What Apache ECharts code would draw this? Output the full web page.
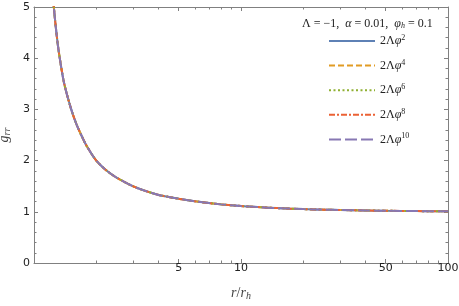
<!DOCTYPE html>
<html><head><meta charset="utf-8">
<script src="https://cdn.jsdelivr.net/npm/echarts@6/dist/echarts.min.js"></script>
<style>html,body{margin:0;padding:0;background:#fff}#c{width:459px;height:306px}</style>
</head><body><div id="c"></div>
<script>
// Data
const rValues = [1.2, 1.25, 1.3, 1.35, 1.4, 1.5, 1.6, 1.7, 1.8, 2, 2.25, 2.5, 3, 3.5, 4, 5, 6, 7, 8, 10, 12, 15, 20, 25, 30, 40, 50, 70, 100];
const grrValues = [5.9, 4.95, 4.3, 3.85, 3.5, 3.05, 2.72, 2.48, 2.28, 2.0, 1.8, 1.67, 1.5, 1.4, 1.33, 1.255, 1.205, 1.17, 1.145, 1.112, 1.092, 1.072, 1.053, 1.042, 1.035, 1.026, 1.02, 1.014, 1.01];
const seriesNames = ['2Λφ2', '2Λφ4', '2Λφ6', '2Λφ8', '2Λφ10'];
const seriesPowers = ['2', '4', '6', '8', '10'];
const seriesColors = ['#5E81B5', '#E19C24', '#8FB032', '#EB6235', '#8778B3'];
const seriesDash = ['solid', [6, 3], [2, 2.5], [6, 2, 2, 2], [12, 4]];
const xMajorTicks = [5, 10, 50, 100];
const xMinorTicks = [2, 3, 4, 6, 7, 8, 9, 20, 30, 40, 60, 70, 80, 90];

const frameColor = '#808080';
const tickColor = '#808080';
const pts = rValues.map((r, i) => [r, grrValues[i]]);

function xAxisDef(pos, ticks, len, labels, line) {
  return {
    type: 'log', logBase: 10, min: 1, max: 100, position: pos,
    axisLine: {show: line, onZero: false, lineStyle: {color: frameColor, width: 1}},
    axisTick: {show: true, inside: true, length: len, customValues: ticks, lineStyle: {color: tickColor, width: 1}},
    axisLabel: labels ? {show: true, customValues: xMajorTicks, color: '#222', fontFamily: 'DejaVu Sans', fontSize: 11, margin: 0} : {show: false},
    splitLine: {show: false}, minorTick: {show: false}
  };
}
function yAxisDef(pos, labels) {
  return {
    type: 'value', min: 0, max: 5, interval: 1, position: pos,
    axisLine: {show: true, onZero: false, lineStyle: {color: frameColor, width: 1}},
    axisTick: {show: true, inside: true, length: 4, lineStyle: {color: tickColor, width: 1}},
    minorTick: {show: true, splitNumber: 5, length: 2.5, lineStyle: {color: tickColor, width: 1}},
    axisLabel: labels ? {show: true, color: '#222', fontFamily: 'DejaVu Sans', fontSize: 11, margin: 4} : {show: false},
    splitLine: {show: false}
  };
}

const xAxes = [
  xAxisDef('bottom', xMajorTicks, 4, true, true),
  xAxisDef('bottom', xMinorTicks, 2.5, false, false),
  xAxisDef('top', xMajorTicks, 4, false, true),
  xAxisDef('top', xMinorTicks, 2.5, false, false)
];
xAxes[0].name = '{i|r}/{i|r}{sub|h}';
xAxes[0].nameLocation = 'middle';
xAxes[0].nameGap = 22;
xAxes[0].nameTextStyle = {fontFamily: 'Liberation Serif', fontSize: 14, color: '#444',
  rich: {i: {fontFamily: 'Liberation Serif', fontStyle: 'italic', fontSize: 14, color: '#444'},
         sub: {fontFamily: 'Liberation Serif', fontStyle: 'italic', fontSize: 10, color: '#444', padding: [6, 0, 0, 0]}}};

const yAxes = [yAxisDef('left', true), yAxisDef('right', false)];
yAxes[0].name = '{i|g}{sub|rr}';
yAxes[0].nameLocation = 'middle';
yAxes[0].nameGap = 18;
yAxes[0].nameTextStyle = {color: '#444',
  rich: {i: {fontFamily: 'Liberation Serif', fontStyle: 'italic', fontSize: 14, color: '#444'},
         sub: {fontFamily: 'Liberation Serif', fontStyle: 'italic', fontSize: 10, color: '#444', padding: [6, 0, 0, 0]}}};

const series = seriesNames.map((n, i) => ({
  name: n, type: 'line', xAxisIndex: 0, yAxisIndex: 0, data: pts,
  smooth: 0.3, showSymbol: false, symbol: 'none', legendIcon: 'none', animation: false,
  lineStyle: {color: seriesColors[i], width: 2, type: seriesDash[i]},
  itemStyle: {color: seriesColors[i]}
}));

const chart = echarts.init(document.getElementById('c'));
chart.setOption({
  animation: false,
  grid: {left: 34, right: 11, top: 7, bottom: 43, containLabel: false, outerBoundsMode: 'none'},
  xAxis: xAxes,
  yAxis: yAxes,
  title: {
    text: 'Λ = −1,  {i|α} = 0.01,  {i|φ}{sub|h} = 0.1',
    left: 297, top: 12,
    textStyle: {fontFamily: 'Liberation Serif', fontSize: 12, fontWeight: 'normal', color: '#222',
      rich: {i: {fontFamily: 'Liberation Serif', fontStyle: 'italic', fontSize: 12, color: '#222'},
             sub: {fontFamily: 'Liberation Serif', fontStyle: 'italic', fontSize: 8, color: '#222', padding: [5, 0, 0, 0]}}}
  },
  legend: {
    orient: 'vertical', left: 323, top: 29, itemWidth: 46, itemHeight: 12, itemGap: 11.6,
    data: seriesNames,
    itemStyle: {opacity: 0, borderWidth: 0},
    formatter: function (name) { const k = seriesNames.indexOf(name); return '2Λ{i|φ}{sup|' + seriesPowers[k] + '}'; },
    textStyle: {fontFamily: 'Liberation Serif', fontSize: 12, color: '#222',
      rich: {i: {fontFamily: 'Liberation Serif', fontStyle: 'italic', fontSize: 12, color: '#222'},
             sup: {fontFamily: 'Liberation Serif', fontSize: 8, color: '#222', padding: [0, 0, 6, 0]}}}
  },
  series: series
});
</script></body></html>
